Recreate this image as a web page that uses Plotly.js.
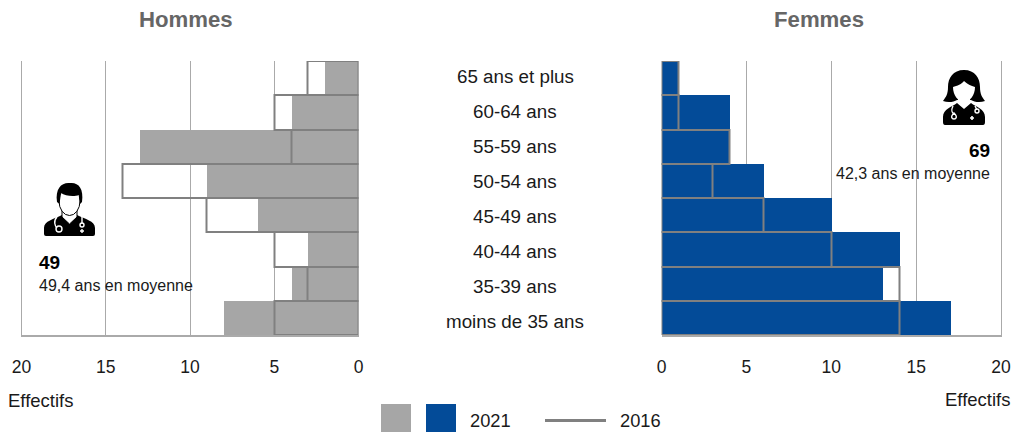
<!DOCTYPE html>
<html lang="fr">
<head>
<meta charset="utf-8">
<script src="https://cdn.plot.ly/plotly-3.0.1.min.js"></script>
<style>html,body{margin:0;padding:0;background:#fff}</style>
</head>
<body>
<div id="chart" style="width:1011px;height:432px"></div>
<script>
const categories = ["65 ans et plus","60-64 ans","55-59 ans","50-54 ans","45-49 ans","40-44 ans","35-39 ans","moins de 35 ans"];
const hommes2021 = [2,4,13,9,6,3,4,8];
const hommes2016 = [3,5,4,14,9,5,3,5];
const femmes2021 = [1,4,4,6,10,14,13,17];
const femmes2016 = [1,1,4,3,6,10,14,14];
const tickValues = [0,5,10,15,20];

const GREY = "#a6a6a6", BLUE = "#034b98", LINE = "#808080", GRID = "#aaaaaa", FONT = "Liberation Sans, Arial, sans-serif";
const W = 1011, H = 432;
const px = v => v / W, py = v => 1 - v / H;

function fillBar(vals, color, xa, ya, name) {
  return {type:"bar", orientation:"h", y:categories, x:vals, xaxis:xa, yaxis:ya, name,
    marker:{color, line:{width:0}}, hoverinfo:"x+y", showlegend:false};
}
function lineBar(vals, xa, ya) {
  return {type:"bar", orientation:"h", y:categories, x:vals, xaxis:xa, yaxis:ya, name:"2016",
    marker:{color:"rgba(0,0,0,0)", line:{color:LINE, width:2}}, hoverinfo:"x+y", showlegend:false};
}
const traces = [
  fillBar(hommes2021, GREY, "x", "y", "2021"), lineBar(hommes2016, "x", "y"),
  fillBar(femmes2021, BLUE, "x2", "y2", "2021"), lineBar(femmes2016, "x2", "y2")
];

function xAxis(domain, range, anchor) {
  return {domain, range, anchor, tickmode:"array", tickvals:tickValues, ticktext:tickValues.map(String),
    showgrid:true, gridcolor:GRID, gridwidth:1, zeroline:false, showline:true, linecolor:GRID, linewidth:2,
    ticks:"", ticklabelstandoff:15, tickfont:{family:FONT, size:17.5, color:"#1a1a1a"}, fixedrange:true};
}
function yAxis(anchor, side) {
  return {domain:[py(335), py(61)], anchor, side, type:"category", categoryorder:"array", categoryarray:categories,
    autorange:"reversed", showticklabels:false, showgrid:false, zeroline:false, showline:true, linecolor:GRID, linewidth:1,
    ticks:"", fixedrange:true};
}

function txt(text, xp, yp, opts) {
  return Object.assign({text, xref:"paper", yref:"paper", x:px(xp), y:py(yp), showarrow:false,
    xanchor:"center", yanchor:"middle", font:{family:FONT, size:16, color:"#1a1a1a"}}, opts||{});
}
const LABEL_TOP = 76, LABEL_STEP = 35.14;
const annotations = [
  txt("<b>Hommes</b>", 185.5, 20, {font:{family:FONT, size:22.2, color:"#666666"}}),
  txt("<b>Femmes</b>", 819, 20, {font:{family:FONT, size:22.2, color:"#666666"}}),
  txt("<b>49</b>", 37, 262, {xanchor:"left", font:{family:FONT, size:19, color:"#000"}}),
  txt("49,4 ans en moyenne", 37, 285, {xanchor:"left", font:{family:FONT, size:16, color:"#1a1a1a"}}),
  txt("<b>69</b>", 992, 151, {xanchor:"right", font:{family:FONT, size:19, color:"#000"}}),
  txt("42,3 ans en moyenne", 992, 173, {xanchor:"right", font:{family:FONT, size:16, color:"#1a1a1a"}}),
  txt("Effectifs", 5.5, 400, {xanchor:"left", font:{family:FONT, size:18.5, color:"#1a1a1a"}}),
  txt("Effectifs", 1012, 399, {xanchor:"right", font:{family:FONT, size:18.5, color:"#1a1a1a"}}),
  txt("2021", 468, 420, {xanchor:"left", font:{family:FONT, size:18.3, color:"#1a1a1a"}}),
  txt("2016", 618, 420, {xanchor:"left", font:{family:FONT, size:18.3, color:"#1a1a1a"}})
].concat(categories.map((c,i) => txt(c, 515, LABEL_TOP + i*LABEL_STEP, {font:{family:FONT, size:18.8, color:"#1a1a1a"}})));

const rect = (x0,x1,y0,y1,color) => ({type:"rect", xref:"paper", yref:"paper", x0:px(x0), x1:px(x1), y0:py(y1), y1:py(y0),
  fillcolor:color, line:{width:0}});
const shapes = [
  rect(381,411,404,432,GREY), rect(426,456,404,432,BLUE),
  {type:"line", xref:"paper", yref:"paper", x0:px(545), x1:px(606), y0:py(420.5), y1:py(420.5), line:{color:LINE, width:3}}
];

const manSvg = `<svg xmlns="http://www.w3.org/2000/svg" viewBox="0 0 53 55" width="53" height="55">
<path d="M1 52 V46 C1 39 11 37 19 33 L26.5 42 L34 33 C42 37 52 39 52 46 V52 Q52 54 50 54 H3 Q1 54 1 52Z" fill="#000"/>
<path d="M19 26 V35 L26.5 42 L34 35 V26Z" fill="#fff" stroke="#000" stroke-width="1"/>
<ellipse cx="26.5" cy="19" rx="10.5" ry="14.5" fill="#fff" stroke="#000" stroke-width="1"/>
<path d="M14 20 C12 6 19 0 27 1 C35 0 41 6 39 20 L37 22 L36 13 C31 15 22 14 18 11 L16.5 22Z" fill="#000"/>
<path d="M14 35 C10 39 12 44 14 46 M39 35 V42" stroke="#fff" stroke-width="1.4" fill="none"/>
<circle cx="16" cy="47" r="3" fill="none" stroke="#fff" stroke-width="1.4"/>
<circle cx="39" cy="43" r="2" fill="none" stroke="#fff" stroke-width="1.4"/>
<path d="M39 47 V51 M37 49 H41" stroke="#fff" stroke-width="1.4"/>
</svg>`;
const womanSvg = `<svg xmlns="http://www.w3.org/2000/svg" viewBox="0 0 44 56" width="44" height="56">
<path d="M1 52 V47 C1 39 10 37 15 33 L22 39 L29 33 C34 37 43 39 43 47 V52 Q43 55 41 55 H3 Q1 55 1 52Z" fill="#000"/>
<path d="M22 0 C11 0 6 8 6 17 C6 24 4 27 1 31 C6 33 12 32 15 30 H29 C32 32 38 33 43 31 C40 27 38 24 38 17 C38 8 33 0 22 0Z" fill="#000"/>
<path d="M16 27 V33 L22 38 L28 33 V27Z" fill="#fff"/>
<path d="M11 17 C15 16 20 14 22 11 C25 14 29 16 33 17 C33 25 28 32 22 32 C16 32 11 25 11 17Z" fill="#fff"/>
<path d="M11 36 C9 40 10 43 12 44 M33 36 L35 40" stroke="#fff" stroke-width="1.4" fill="none"/>
<path d="M12 43 C8 47 10 49 12 49 C14 49 16 47 12 43Z" fill="none" stroke="#fff" stroke-width="1.4"/>
<circle cx="35" cy="41" r="2" fill="none" stroke="#fff" stroke-width="1.4"/>
<path d="M30 46 V50 M28 48 H32" stroke="#fff" stroke-width="1.6"/>
</svg>`;
const dataUri = s => "data:image/svg+xml;charset=utf-8," + encodeURIComponent(s);
const icon = (svg,x,y,w,h) => ({source:dataUri(svg), xref:"paper", yref:"paper", x:px(x), y:py(y), sizex:w/W, sizey:h/H,
  xanchor:"left", yanchor:"top", sizing:"stretch", layer:"above"});

const layout = {
  width:W, height:H, margin:{l:0,r:0,t:0,b:0}, paper_bgcolor:"#fff", plot_bgcolor:"rgba(0,0,0,0)",
  barmode:"overlay", bargap:0, showlegend:false, font:{family:FONT},
  xaxis:xAxis([px(21.5), px(358.5)], [20,0], "y"),
  yaxis:yAxis("x", "left"),
  xaxis2:xAxis([px(661.5), px(1001)], [0,20], "y2"),
  yaxis2:yAxis("x2", "right"),
  annotations, shapes,
  images:[icon(manSvg,43,182,53,55), icon(womanSvg,942,70,44,56)]
};
Plotly.newPlot("chart", traces, layout, {displayModeBar:false, responsive:false});
</script>
</body>
</html>
